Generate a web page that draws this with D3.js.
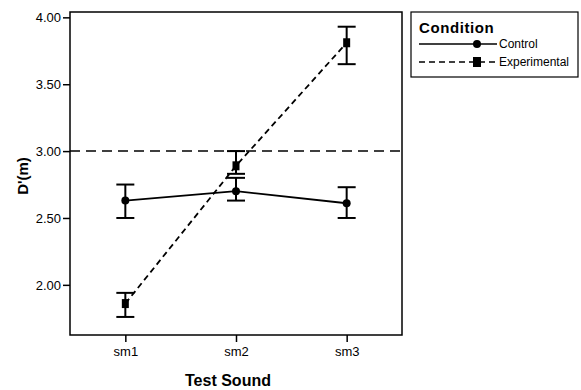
<!DOCTYPE html>
<html>
<head>
<meta charset="utf-8">
<script src="https://cdn.jsdelivr.net/npm/d3@7"></script>
<style>
  body { margin: 0; background: #fff; }
  svg { font-family: "Liberation Sans", Arial, sans-serif; }
</style>
</head>
<body>
<div id="chart"></div>
<script>
const width = 581;
const height = 390;

const sounds = ["sm1", "sm2", "sm3"];
const conditions = ["Control", "Experimental"];
const controlMean = [2.63, 2.70, 2.61];
const controlLow = [2.50, 2.63, 2.50];
const controlHigh = [2.75, 2.80, 2.73];
const expMean = [1.86, 2.89, 3.81];
const expLow = [1.76, 2.83, 3.65];
const expHigh = [1.94, 3.00, 3.93];
const yTicks = [2.00, 2.50, 3.00, 3.50, 4.00];
const refValue = 3.00;

const margin = ({top: 12, right: 179, bottom: 55, left: 70});

const svg = d3.select("#chart").append("svg")
  .attr("width", width)
  .attr("height", height);

const x = d3.scalePoint()
  .domain(sounds)
  .range([margin.left, width - margin.right])
  .padding(0.5);

const y = d3.scaleLinear()
  .domain([1.625, 4.04])
  .range([height - margin.bottom, margin.top]);

const xAxis = g => g
  .attr("transform", `translate(0,${height - margin.bottom})`)
  .call(d3.axisBottom(x).tickSize(7).tickPadding(5))
  .call(g => g.select(".domain").remove())
  .call(g => g.selectAll(".tick line").attr("stroke-width", 1.5))
  .call(g => g.selectAll("text").attr("font-size", 13).attr("fill", "#000"));

const yAxis = g => g
  .attr("transform", `translate(${margin.left},0)`)
  .call(d3.axisLeft(y).tickValues(yTicks).tickFormat(d3.format(".2f")).tickSize(7).tickPadding(2))
  .call(g => g.select(".domain").remove())
  .call(g => g.selectAll(".tick line").attr("stroke-width", 1.5))
  .call(g => g.selectAll("text").attr("font-size", 13).attr("fill", "#000"));

svg.append("g").call(xAxis);
svg.append("g").call(yAxis);

// plot frame
svg.append("rect")
  .attr("x", margin.left)
  .attr("y", margin.top)
  .attr("width", width - margin.right - margin.left)
  .attr("height", height - margin.bottom - margin.top)
  .attr("fill", "none")
  .attr("stroke", "#000")
  .attr("stroke-width", 1.5);

// reference line
svg.append("line")
  .attr("x1", margin.left)
  .attr("x2", width - margin.right)
  .attr("y1", y(refValue))
  .attr("y2", y(refValue))
  .attr("stroke", "#000")
  .attr("stroke-width", 1.5)
  .attr("stroke-dasharray", "10,6");

const series = [
  {name: "Control", mean: controlMean, low: controlLow, high: controlHigh, dash: null, marker: "circle"},
  {name: "Experimental", mean: expMean, low: expLow, high: expHigh, dash: "6,4", marker: "square"}
];

const line = d3.line()
  .x((d, i) => x(sounds[i]))
  .y(d => y(d));

series.forEach(s => {
  const g = svg.append("g");

  g.append("path")
    .datum(s.mean)
    .attr("fill", "none")
    .attr("stroke", "#000")
    .attr("stroke-width", 1.8)
    .attr("stroke-dasharray", s.dash)
    .attr("d", line);

  // error bars
  sounds.forEach((snd, i) => {
    const cx = x(snd);
    g.append("line")
      .attr("x1", cx).attr("x2", cx)
      .attr("y1", y(s.low[i])).attr("y2", y(s.high[i]))
      .attr("stroke", "#000").attr("stroke-width", 2);
    [s.low[i], s.high[i]].forEach(v => {
      g.append("line")
        .attr("x1", cx - 9).attr("x2", cx + 9)
        .attr("y1", y(v)).attr("y2", y(v))
        .attr("stroke", "#000").attr("stroke-width", 2);
    });
  });

  g.selectAll(".pt")
    .data(s.mean)
    .join("path")
    .attr("transform", (d, i) => `translate(${x(sounds[i])},${y(d)})`)
    .attr("d", s.marker === "circle"
      ? d3.symbol(d3.symbolCircle, 50)()
      : "M-3.5,-4.5H3.5V4.5H-3.5Z")
    .attr("fill", "#000");
});

// axis titles
svg.append("text")
  .attr("x", (margin.left + width - margin.right) / 2 - 8)
  .attr("y", 386)
  .attr("text-anchor", "middle")
  .attr("font-size", 16)
  .attr("font-weight", "bold")
  .text("Test Sound");

svg.append("text")
  .attr("transform", `translate(28,176) rotate(-90)`)
  .attr("text-anchor", "middle")
  .attr("font-size", 15)
  .attr("font-weight", "bold")
  .text("D'(m)");

// legend
const legend = svg.append("g");
legend.append("rect")
  .attr("x", 411).attr("y", 12)
  .attr("width", 167).attr("height", 65)
  .attr("fill", "#fff")
  .attr("stroke", "#000")
  .attr("stroke-width", 1.2);

legend.append("text")
  .attr("x", 419).attr("y", 33)
  .attr("font-size", 15)
  .attr("font-weight", "bold")
  .attr("letter-spacing", 0.6)
  .text("Condition");

series.forEach((s, i) => {
  const ly = 44 + i * 18;
  legend.append("line")
    .attr("x1", 419).attr("x2", 497)
    .attr("y1", ly).attr("y2", ly)
    .attr("stroke", "#000")
    .attr("stroke-width", 1.5)
    .attr("stroke-dasharray", s.dash);
  legend.append("path")
    .attr("transform", `translate(477,${ly})`)
    .attr("d", s.marker === "circle"
      ? d3.symbol(d3.symbolCircle, 50)()
      : "M-4,-5H4V5H-4Z")
    .attr("fill", "#000");
  legend.append("text")
    .attr("x", 499).attr("y", ly + 4)
    .attr("font-size", 12)
    .text(conditions[i]);
});
</script>
</body>
</html>
